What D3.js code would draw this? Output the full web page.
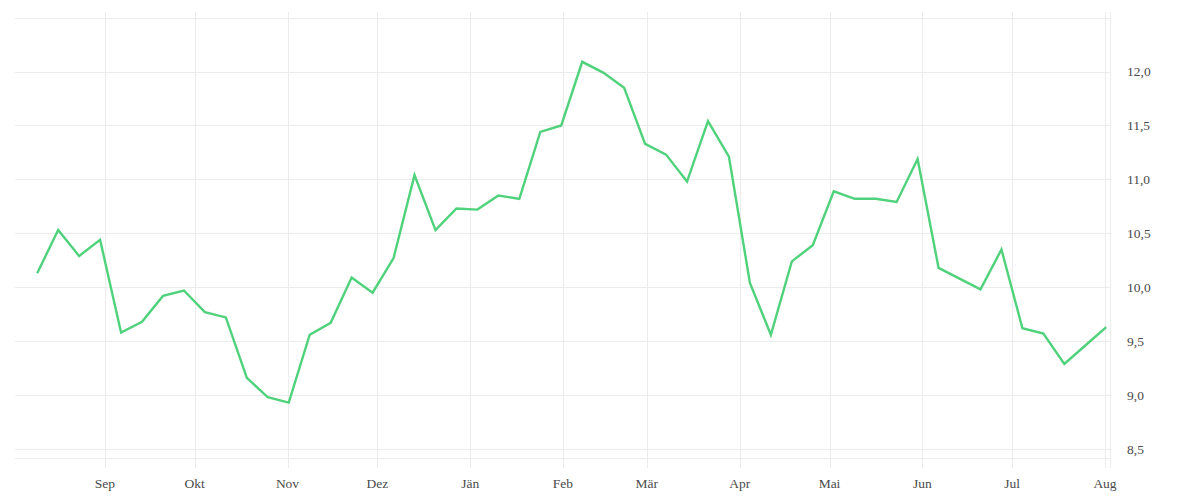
<!DOCTYPE html>
<html>
<head>
<meta charset="utf-8">
<script src="https://cdn.jsdelivr.net/npm/d3@7"></script>
<style>
  html, body { margin: 0; padding: 0; background: #fff; }
  svg { display: block; }
  text { font-family: "Liberation Serif", "Times New Roman", serif; font-size: 13.5px; fill: #4a4a4a; }
</style>
</head>
<body>
<svg id="chart" width="1200" height="500"></svg>
<script>
// ---- data ----
const startDate = "2022-08-09T10:00";   // first weekly observation
const values = [
  10.13, 10.53, 10.29, 10.44, 9.58, 9.68, 9.92, 9.97, 9.77, 9.72,
  9.16, 8.98, 8.93, 9.56, 9.67, 10.09, 9.95, 10.27, 11.04, 10.53,
  10.73, 10.72, 10.85, 10.82, 11.44, 11.50, 12.09, 11.99, 11.85, 11.33,
  11.23, 10.98, 11.54, 11.21, 10.04, 9.56, 10.24, 10.39, 10.89, 10.82,
  10.82, 10.79, 11.19, 10.18, 10.08, 9.98, 10.35, 9.62, 9.57, 9.29,
  9.46, 9.63
];
const monthLabels = ["Jän","Feb","Mär","Apr","Mai","Jun","Jul","Aug","Sep","Okt","Nov","Dez"];
const yTickValues = [8.5, 9.0, 9.5, 10.0, 10.5, 11.0, 11.5, 12.0];
const yGridValues = [8.5, 9.0, 9.5, 10.0, 10.5, 11.0, 11.5, 12.0, 12.5];
const xDomain = ["2022-08-02T00:00", "2023-08-02T16:00"];
const yDomain = [8.417, 12.552];

// ---- build ----
(function () {
const parseT = d3.timeParse("%Y-%m-%dT%H:%M");
const t0 = parseT(startDate);
const data = values.map((v, i) => ({ date: d3.timeDay.offset(t0, i * 7), value: v }));

const L = 15, R = 1110, T = 12, B = 458;
const x = d3.scaleTime().domain(xDomain.map(parseT)).range([L, R]);
const y = d3.scaleLinear().domain(yDomain).range([B, T]);

const svg = d3.select("#chart");
const grid = "#ececec";

// horizontal grid
svg.append("g").selectAll("line").data(yGridValues).join("line")
  .attr("x1", L).attr("x2", R)
  .attr("y1", d => Math.round(y(d)) + 0.5).attr("y2", d => Math.round(y(d)) + 0.5)
  .attr("stroke", grid).attr("stroke-width", 1);

// bottom line
svg.append("line")
  .attr("x1", L).attr("x2", R)
  .attr("y1", B + 0.5).attr("y2", B + 0.5)
  .attr("stroke", grid);

// vertical month grid (extends 10px below as tick)
const months = x.ticks(d3.timeMonth.every(1)).filter(d => x(d) > L + 20);
svg.append("g").selectAll("line").data(months).join("line")
  .attr("x1", d => Math.round(x(d)) + 0.5).attr("x2", d => Math.round(x(d)) + 0.5)
  .attr("y1", T).attr("y2", B + 10)
  .attr("stroke", grid);

// right edge line
svg.append("line")
  .attr("x1", R + 0.5).attr("x2", R + 0.5)
  .attr("y1", T).attr("y2", B + 10)
  .attr("stroke", grid);

// x labels
svg.append("g").selectAll("text").data(months).join("text")
  .attr("x", d => x(d)).attr("y", 488)
  .attr("text-anchor", "middle")
  .text(d => monthLabels[d.getMonth()]);

// y labels
const fmt = d3.format(".1f");
svg.append("g").selectAll("text").data(yTickValues).join("text")
  .attr("x", 1127).attr("y", d => y(d) + 4.5)
  .attr("text-anchor", "start")
  .text(d => fmt(d).replace(".", ","));

// line
const line = d3.line().x(d => x(d.date)).y(d => y(d.value));
svg.append("path").datum(data)
  .attr("d", line)
  .attr("fill", "none")
  .attr("stroke", "#4fd27b")
  .attr("stroke-width", 2.4)
  .attr("stroke-linejoin", "miter");
})();
</script>
</body>
</html>
